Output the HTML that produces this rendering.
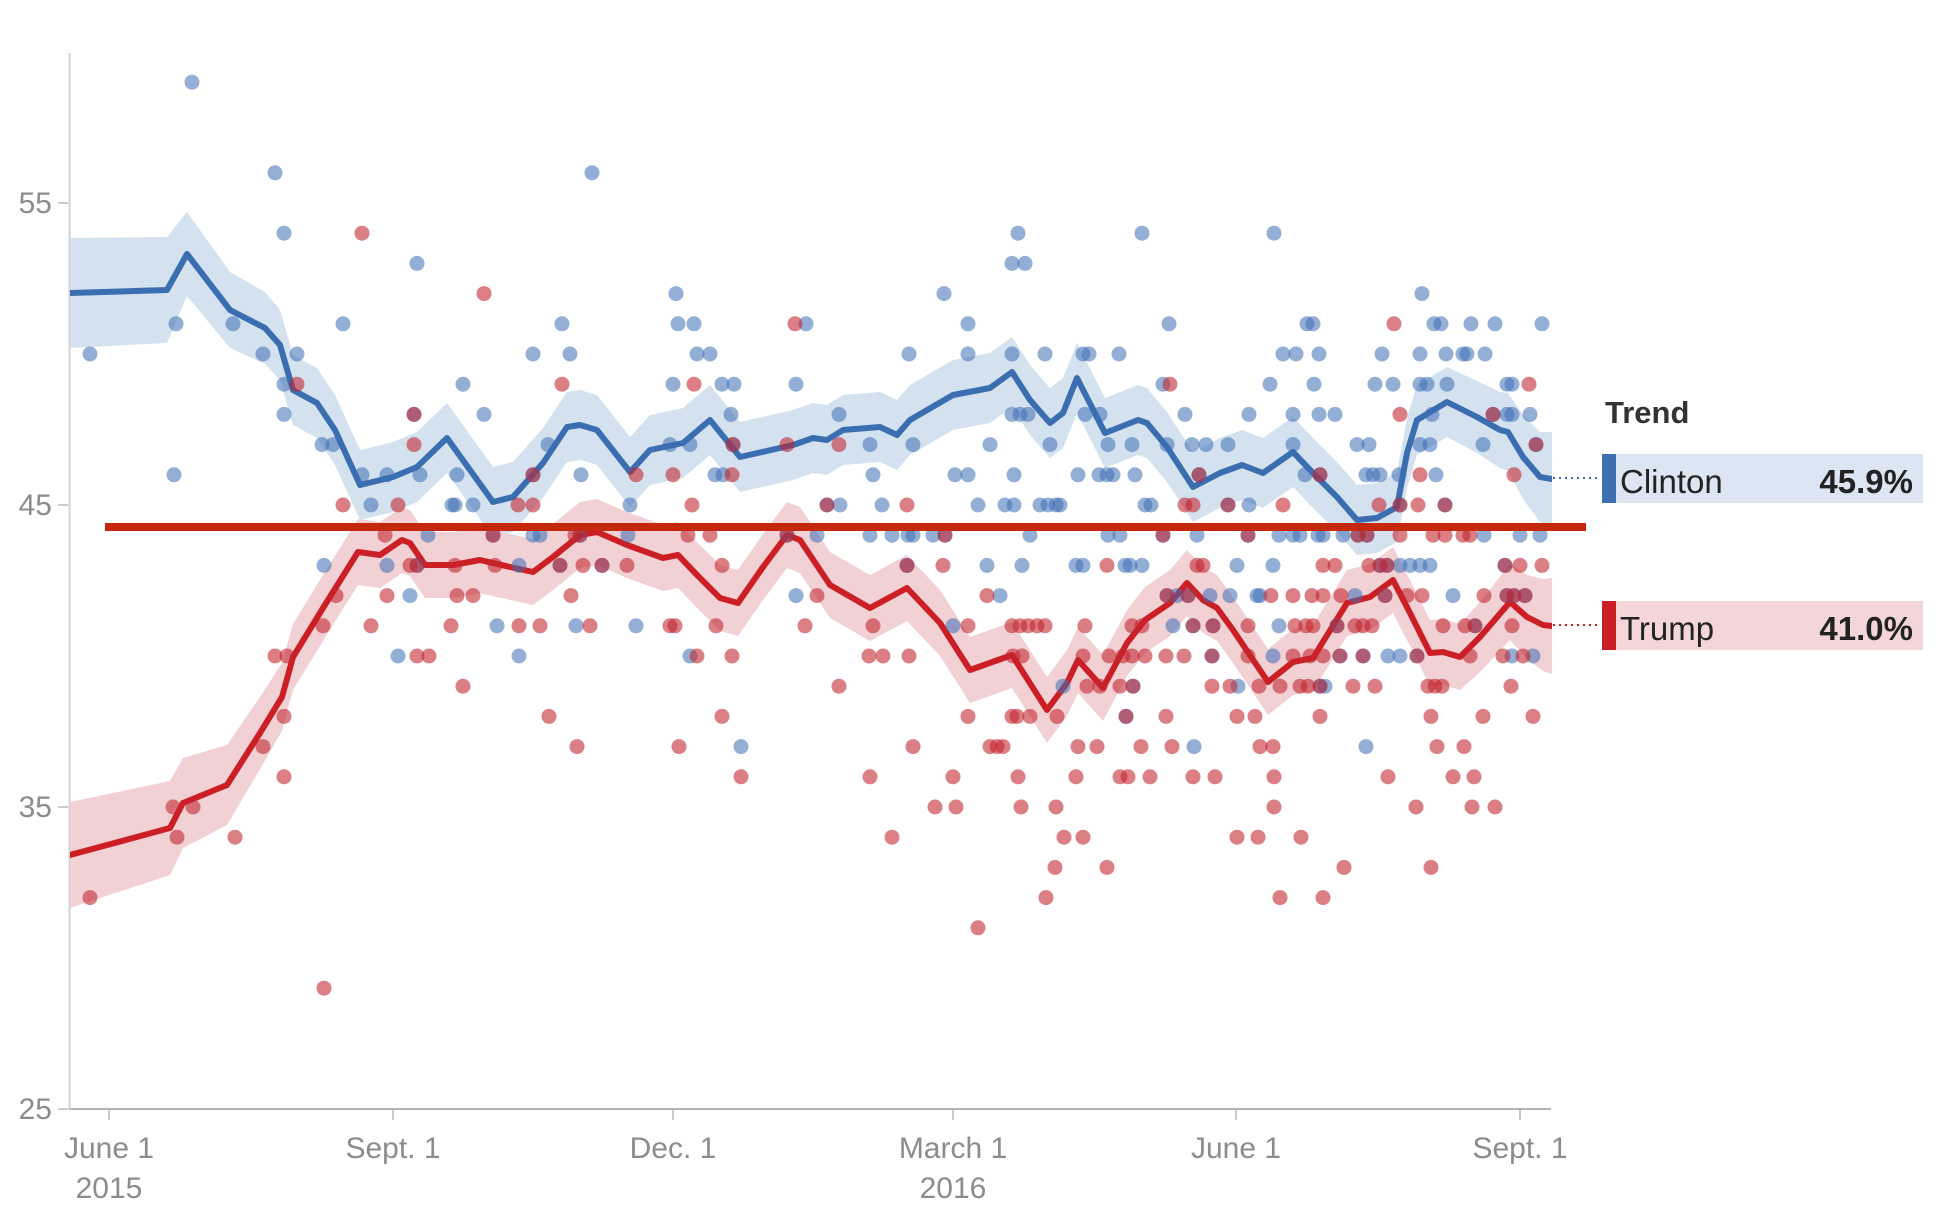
<!DOCTYPE html>
<html><head><meta charset="utf-8"><style>
html,body{margin:0;padding:0;background:#fff;}
svg{display:block;}
text{font-family:"Liberation Sans",Arial,sans-serif;}
</style></head><body>
<svg width="1954" height="1225" viewBox="0 0 1954 1225" xmlns="http://www.w3.org/2000/svg">
<rect width="1954" height="1225" fill="#fff"/>
<!-- axes -->
<line x1="69.5" y1="53" x2="69.5" y2="1109" stroke="#d2d2d2" stroke-width="2"/>
<line x1="69" y1="1109" x2="1551" y2="1109" stroke="#b4b4b4" stroke-width="2"/>
<g stroke="#b8b8b8" stroke-width="1.5">
<line x1="58" y1="203" x2="68" y2="203"/><line x1="58" y1="505" x2="68" y2="505"/><line x1="58" y1="807" x2="68" y2="807"/><line x1="58" y1="1109" x2="68" y2="1109"/>
<line x1="109" y1="1110" x2="109" y2="1120"/><line x1="393" y1="1110" x2="393" y2="1120"/><line x1="673" y1="1110" x2="673" y2="1120"/><line x1="953" y1="1110" x2="953" y2="1120"/><line x1="1236" y1="1110" x2="1236" y2="1120"/><line x1="1520" y1="1110" x2="1520" y2="1120"/>
</g>
<g fill="#8c8c8c" font-size="30" text-anchor="end">
<text x="52" y="213">55</text><text x="52" y="515">45</text><text x="52" y="817">35</text><text x="52" y="1119">25</text>
</g>
<g fill="#8c8c8c" font-size="30" text-anchor="middle">
<text x="109" y="1158">June 1</text><text x="109" y="1198">2015</text>
<text x="393" y="1158">Sept. 1</text>
<text x="673" y="1158">Dec. 1</text>
<text x="953" y="1158">March 1</text><text x="953" y="1198">2016</text>
<text x="1236" y="1158">June 1</text>
<text x="1520" y="1158">Sept. 1</text>
</g>
<defs><clipPath id="pc"><rect x="70" y="0" width="1482" height="1109"/></clipPath></defs>
<g clip-path="url(#pc)">
<!-- blue band -->
<polygon fill="#d4e2f0" points="70,238 167,237 187,212 230,272 265,292 280,310 293,355 317,368 335,395 360,450 393,442 417,432 447,403 470,435 493,467 513,462 543,428 567,392 580,390 597,395 630,437 650,415 683,408 710,385 740,422 793,410 813,403 827,405 843,395 880,392 897,400 910,385 953,360 990,353 1012,337 1030,365 1050,388 1063,378 1077,343 1105,398 1138,385 1147,388 1167,412 1193,452 1220,438 1242,430 1263,438 1293,417 1313,438 1337,462 1357,485 1377,483 1397,472 1407,418 1417,385 1447,367 1477,381 1500,392 1508,393 1523,415 1540,432 1552,432 1552,526 1540,522 1523,499 1508,471 1500,468 1477,453 1447,437 1417,455 1407,488 1397,542 1377,553 1357,555 1337,532 1313,508 1293,487 1263,508 1242,500 1220,508 1193,522 1167,482 1147,458 1138,455 1105,468 1077,413 1063,448 1050,458 1030,435 1012,407 990,423 953,430 910,455 897,470 880,462 843,465 827,475 813,473 793,480 740,492 710,455 683,478 650,485 630,507 597,465 580,460 567,462 543,498 513,532 493,537 470,505 447,473 417,502 393,512 360,520 335,465 317,438 293,425 280,380 265,364 230,348 187,296 167,343 70,348"/>
<!-- red band -->
<polygon fill="#f1d1d4" points="70,802 170,781 183,758 227,745 260,697 282,663 293,624 323,575 358,519 380,522 402,507 410,510 425,532 453,532 480,527 510,534 533,539 553,524 580,502 597,499 627,512 663,525 678,522 697,542 720,565 738,570 763,534 787,502 800,507 830,552 870,575 907,555 940,590 970,637 1012,622 1047,677 1067,650 1078,627 1103,655 1127,610 1145,587 1170,570 1187,550 1203,567 1217,575 1233,597 1268,649 1293,629 1313,625 1347,570 1370,564 1393,547 1410,580 1430,620 1443,619 1460,624 1480,602 1510,564 1527,575 1543,579 1552,578 1552,674 1543,671 1527,659 1510,640 1480,672 1460,690 1443,685 1430,686 1410,646 1393,613 1370,630 1347,636 1313,691 1293,695 1268,715 1233,663 1217,641 1203,633 1187,616 1170,636 1145,653 1127,676 1103,721 1078,693 1067,716 1047,743 1012,688 970,703 940,656 907,621 870,641 830,618 800,573 787,568 763,600 738,636 720,631 697,608 678,588 663,591 627,578 597,565 580,568 553,590 533,605 510,600 480,593 453,598 425,598 410,576 402,573 380,588 358,585 323,641 293,690 282,731 260,769 227,825 183,848 170,875 70,908"/>
<!-- trend lines -->
<polyline fill="none" stroke="#3b6eb0" stroke-width="6" stroke-linejoin="round" stroke-linecap="round" points="70,293 167,290 187,254 230,310 265,328 280,345 293,390 317,403 335,430 360,485 393,477 417,467 447,438 470,470 493,502 513,497 543,463 567,427 580,425 597,430 630,472 650,450 683,443 710,420 740,457 793,445 813,438 827,440 843,430 880,427 897,435 910,420 953,395 990,388 1012,372 1030,400 1050,423 1063,413 1077,378 1105,433 1138,420 1147,423 1167,447 1193,487 1220,473 1242,465 1263,473 1293,452 1313,473 1337,497 1357,520 1377,518 1397,507 1407,453 1417,420 1447,402 1477,417 1500,430 1508,432 1523,457 1540,477 1552,479"/>
<polyline fill="none" stroke="#cc1f25" stroke-width="6" stroke-linejoin="round" stroke-linecap="round" points="70,855 170,828 183,803 227,785 260,733 282,697 293,657 323,608 358,552 380,555 402,540 410,543 425,565 453,565 480,560 510,567 533,572 553,557 580,535 597,532 627,545 663,558 678,555 697,575 720,598 738,603 763,567 787,535 800,540 830,585 870,608 907,588 940,623 970,670 1012,655 1047,710 1067,683 1078,660 1103,688 1127,643 1145,620 1170,603 1187,583 1203,600 1217,608 1233,630 1268,682 1293,662 1313,658 1347,603 1370,597 1393,580 1410,613 1430,653 1443,652 1460,657 1480,637 1510,602 1527,617 1543,625 1552,626"/>
</g>
<!-- blue dots -->
<g fill="#3c6eb4" fill-opacity="0.55">
<g transform="translate(0,82.2)"><circle cx="192" r="7.5"/></g>
<g transform="translate(0,172.8)"><circle cx="275" r="7.5"/><circle cx="592" r="7.5"/></g>
<g transform="translate(0,233.2)"><circle cx="284" r="7.5"/><circle cx="1018" r="7.5"/><circle cx="1142" r="7.5"/><circle cx="1274" r="7.5"/></g>
<g transform="translate(0,263.4)"><circle cx="417" r="7.5"/><circle cx="1012" r="7.5"/><circle cx="1025" r="7.5"/></g>
<g transform="translate(0,293.6)"><circle cx="676" r="7.5"/><circle cx="944" r="7.5"/><circle cx="1422" r="7.5"/></g>
<g transform="translate(0,323.8)"><circle cx="176" r="7.5"/><circle cx="233" r="7.5"/><circle cx="343" r="7.5"/><circle cx="562" r="7.5"/><circle cx="678" r="7.5"/><circle cx="694" r="7.5"/><circle cx="806" r="7.5"/><circle cx="968" r="7.5"/><circle cx="1169" r="7.5"/><circle cx="1307" r="7.5"/><circle cx="1313" r="7.5"/><circle cx="1434" r="7.5"/><circle cx="1441" r="7.5"/><circle cx="1471" r="7.5"/><circle cx="1495" r="7.5"/><circle cx="1542" r="7.5"/></g>
<g transform="translate(0,354)"><circle cx="90" r="7.5"/><circle cx="263" r="7.5"/><circle cx="297" r="7.5"/><circle cx="533" r="7.5"/><circle cx="570" r="7.5"/><circle cx="697" r="7.5"/><circle cx="710" r="7.5"/><circle cx="909" r="7.5"/><circle cx="968" r="7.5"/><circle cx="1012" r="7.5"/><circle cx="1045" r="7.5"/><circle cx="1083" r="7.5"/><circle cx="1089" r="7.5"/><circle cx="1119" r="7.5"/><circle cx="1283" r="7.5"/><circle cx="1296" r="7.5"/><circle cx="1319" r="7.5"/><circle cx="1382" r="7.5"/><circle cx="1420" r="7.5"/><circle cx="1446" r="7.5"/><circle cx="1463" r="7.5"/><circle cx="1467" r="7.5"/><circle cx="1485" r="7.5"/></g>
<g transform="translate(0,384.2)"><circle cx="284" r="7.5"/><circle cx="463" r="7.5"/><circle cx="673" r="7.5"/><circle cx="722" r="7.5"/><circle cx="734" r="7.5"/><circle cx="796" r="7.5"/><circle cx="1163" r="7.5"/><circle cx="1270" r="7.5"/><circle cx="1314" r="7.5"/><circle cx="1375" r="7.5"/><circle cx="1393" r="7.5"/><circle cx="1420" r="7.5"/><circle cx="1427" r="7.5"/><circle cx="1447" r="7.5"/><circle cx="1507" r="7.5"/><circle cx="1512" r="7.5"/></g>
<g transform="translate(0,414.4)"><circle cx="284" r="7.5"/><circle cx="414" r="7.5"/><circle cx="484" r="7.5"/><circle cx="731" r="7.5"/><circle cx="839" r="7.5"/><circle cx="1012" r="7.5"/><circle cx="1020" r="7.5"/><circle cx="1028" r="7.5"/><circle cx="1085" r="7.5"/><circle cx="1100" r="7.5"/><circle cx="1185" r="7.5"/><circle cx="1249" r="7.5"/><circle cx="1293" r="7.5"/><circle cx="1319" r="7.5"/><circle cx="1335" r="7.5"/><circle cx="1432" r="7.5"/><circle cx="1493" r="7.5"/><circle cx="1507" r="7.5"/><circle cx="1512" r="7.5"/><circle cx="1530" r="7.5"/></g>
<g transform="translate(0,444.6)"><circle cx="322" r="7.5"/><circle cx="333" r="7.5"/><circle cx="548" r="7.5"/><circle cx="670" r="7.5"/><circle cx="690" r="7.5"/><circle cx="733" r="7.5"/><circle cx="870" r="7.5"/><circle cx="913" r="7.5"/><circle cx="990" r="7.5"/><circle cx="1050" r="7.5"/><circle cx="1108" r="7.5"/><circle cx="1132" r="7.5"/><circle cx="1167" r="7.5"/><circle cx="1192" r="7.5"/><circle cx="1206" r="7.5"/><circle cx="1228" r="7.5"/><circle cx="1293" r="7.5"/><circle cx="1357" r="7.5"/><circle cx="1369" r="7.5"/><circle cx="1420" r="7.5"/><circle cx="1430" r="7.5"/><circle cx="1483" r="7.5"/><circle cx="1536" r="7.5"/></g>
<g transform="translate(0,474.8)"><circle cx="174" r="7.5"/><circle cx="362" r="7.5"/><circle cx="387" r="7.5"/><circle cx="420" r="7.5"/><circle cx="457" r="7.5"/><circle cx="533" r="7.5"/><circle cx="581" r="7.5"/><circle cx="715" r="7.5"/><circle cx="723" r="7.5"/><circle cx="873" r="7.5"/><circle cx="955" r="7.5"/><circle cx="968" r="7.5"/><circle cx="1014" r="7.5"/><circle cx="1078" r="7.5"/><circle cx="1099" r="7.5"/><circle cx="1107" r="7.5"/><circle cx="1113" r="7.5"/><circle cx="1135" r="7.5"/><circle cx="1199" r="7.5"/><circle cx="1305" r="7.5"/><circle cx="1320" r="7.5"/><circle cx="1366" r="7.5"/><circle cx="1373" r="7.5"/><circle cx="1380" r="7.5"/><circle cx="1399" r="7.5"/><circle cx="1436" r="7.5"/></g>
<g transform="translate(0,505)"><circle cx="371" r="7.5"/><circle cx="452" r="7.5"/><circle cx="455" r="7.5"/><circle cx="473" r="7.5"/><circle cx="630" r="7.5"/><circle cx="827" r="7.5"/><circle cx="840" r="7.5"/><circle cx="882" r="7.5"/><circle cx="978" r="7.5"/><circle cx="1005" r="7.5"/><circle cx="1014" r="7.5"/><circle cx="1040" r="7.5"/><circle cx="1048" r="7.5"/><circle cx="1056" r="7.5"/><circle cx="1060" r="7.5"/><circle cx="1145" r="7.5"/><circle cx="1151" r="7.5"/><circle cx="1228" r="7.5"/><circle cx="1249" r="7.5"/><circle cx="1400" r="7.5"/><circle cx="1445" r="7.5"/></g>
<g transform="translate(0,535.2)"><circle cx="428" r="7.5"/><circle cx="493" r="7.5"/><circle cx="533" r="7.5"/><circle cx="540" r="7.5"/><circle cx="580" r="7.5"/><circle cx="628" r="7.5"/><circle cx="787" r="7.5"/><circle cx="817" r="7.5"/><circle cx="870" r="7.5"/><circle cx="892" r="7.5"/><circle cx="908" r="7.5"/><circle cx="913" r="7.5"/><circle cx="933" r="7.5"/><circle cx="945" r="7.5"/><circle cx="1030" r="7.5"/><circle cx="1108" r="7.5"/><circle cx="1120" r="7.5"/><circle cx="1163" r="7.5"/><circle cx="1197" r="7.5"/><circle cx="1248" r="7.5"/><circle cx="1279" r="7.5"/><circle cx="1293" r="7.5"/><circle cx="1300" r="7.5"/><circle cx="1318" r="7.5"/><circle cx="1323" r="7.5"/><circle cx="1343" r="7.5"/><circle cx="1358" r="7.5"/><circle cx="1367" r="7.5"/><circle cx="1484" r="7.5"/><circle cx="1520" r="7.5"/><circle cx="1540" r="7.5"/></g>
<g transform="translate(0,565.4)"><circle cx="324" r="7.5"/><circle cx="387" r="7.5"/><circle cx="417" r="7.5"/><circle cx="519" r="7.5"/><circle cx="560" r="7.5"/><circle cx="602" r="7.5"/><circle cx="907" r="7.5"/><circle cx="987" r="7.5"/><circle cx="1022" r="7.5"/><circle cx="1076" r="7.5"/><circle cx="1083" r="7.5"/><circle cx="1125" r="7.5"/><circle cx="1130" r="7.5"/><circle cx="1142" r="7.5"/><circle cx="1237" r="7.5"/><circle cx="1273" r="7.5"/><circle cx="1380" r="7.5"/><circle cx="1387" r="7.5"/><circle cx="1400" r="7.5"/><circle cx="1410" r="7.5"/><circle cx="1420" r="7.5"/><circle cx="1430" r="7.5"/><circle cx="1505" r="7.5"/></g>
<g transform="translate(0,595.6)"><circle cx="410" r="7.5"/><circle cx="796" r="7.5"/><circle cx="1000" r="7.5"/><circle cx="1167" r="7.5"/><circle cx="1177" r="7.5"/><circle cx="1188" r="7.5"/><circle cx="1210" r="7.5"/><circle cx="1230" r="7.5"/><circle cx="1257" r="7.5"/><circle cx="1260" r="7.5"/><circle cx="1355" r="7.5"/><circle cx="1385" r="7.5"/><circle cx="1453" r="7.5"/><circle cx="1507" r="7.5"/><circle cx="1514" r="7.5"/><circle cx="1525" r="7.5"/></g>
<g transform="translate(0,625.8)"><circle cx="497" r="7.5"/><circle cx="576" r="7.5"/><circle cx="636" r="7.5"/><circle cx="953" r="7.5"/><circle cx="1173" r="7.5"/><circle cx="1193" r="7.5"/><circle cx="1213" r="7.5"/><circle cx="1279" r="7.5"/><circle cx="1337" r="7.5"/><circle cx="1475" r="7.5"/></g>
<g transform="translate(0,656)"><circle cx="398" r="7.5"/><circle cx="519" r="7.5"/><circle cx="690" r="7.5"/><circle cx="1212" r="7.5"/><circle cx="1273" r="7.5"/><circle cx="1340" r="7.5"/><circle cx="1363" r="7.5"/><circle cx="1388" r="7.5"/><circle cx="1400" r="7.5"/><circle cx="1417" r="7.5"/><circle cx="1512" r="7.5"/><circle cx="1533" r="7.5"/></g>
<g transform="translate(0,686.2)"><circle cx="1063" r="7.5"/><circle cx="1133" r="7.5"/><circle cx="1238" r="7.5"/><circle cx="1320" r="7.5"/><circle cx="1325" r="7.5"/></g>
<g transform="translate(0,716.4)"><circle cx="1126" r="7.5"/></g>
<g transform="translate(0,746.6)"><circle cx="741" r="7.5"/><circle cx="1194" r="7.5"/><circle cx="1366" r="7.5"/></g>
</g>
<!-- red dots -->
<g fill="#c3232d" fill-opacity="0.58">
<g transform="translate(0,233.2)"><circle cx="362" r="7.5"/></g>
<g transform="translate(0,293.6)"><circle cx="484" r="7.5"/></g>
<g transform="translate(0,323.8)"><circle cx="795" r="7.5"/><circle cx="1394" r="7.5"/></g>
<g transform="translate(0,384.2)"><circle cx="297" r="7.5"/><circle cx="562" r="7.5"/><circle cx="694" r="7.5"/><circle cx="1170" r="7.5"/><circle cx="1529" r="7.5"/></g>
<g transform="translate(0,414.4)"><circle cx="414" r="7.5"/><circle cx="1400" r="7.5"/><circle cx="1493" r="7.5"/></g>
<g transform="translate(0,444.6)"><circle cx="414" r="7.5"/><circle cx="733" r="7.5"/><circle cx="787" r="7.5"/><circle cx="839" r="7.5"/><circle cx="1536" r="7.5"/></g>
<g transform="translate(0,474.8)"><circle cx="533" r="7.5"/><circle cx="636" r="7.5"/><circle cx="673" r="7.5"/><circle cx="732" r="7.5"/><circle cx="1199" r="7.5"/><circle cx="1320" r="7.5"/><circle cx="1420" r="7.5"/><circle cx="1514" r="7.5"/></g>
<g transform="translate(0,505)"><circle cx="343" r="7.5"/><circle cx="398" r="7.5"/><circle cx="518" r="7.5"/><circle cx="533" r="7.5"/><circle cx="692" r="7.5"/><circle cx="827" r="7.5"/><circle cx="907" r="7.5"/><circle cx="1185" r="7.5"/><circle cx="1193" r="7.5"/><circle cx="1228" r="7.5"/><circle cx="1283" r="7.5"/><circle cx="1379" r="7.5"/><circle cx="1400" r="7.5"/><circle cx="1418" r="7.5"/><circle cx="1445" r="7.5"/></g>
<g transform="translate(0,535.2)"><circle cx="385" r="7.5"/><circle cx="493" r="7.5"/><circle cx="575" r="7.5"/><circle cx="580" r="7.5"/><circle cx="688" r="7.5"/><circle cx="710" r="7.5"/><circle cx="787" r="7.5"/><circle cx="945" r="7.5"/><circle cx="1163" r="7.5"/><circle cx="1248" r="7.5"/><circle cx="1358" r="7.5"/><circle cx="1367" r="7.5"/><circle cx="1400" r="7.5"/><circle cx="1433" r="7.5"/><circle cx="1445" r="7.5"/><circle cx="1463" r="7.5"/><circle cx="1470" r="7.5"/></g>
<g transform="translate(0,565.4)"><circle cx="410" r="7.5"/><circle cx="417" r="7.5"/><circle cx="455" r="7.5"/><circle cx="495" r="7.5"/><circle cx="560" r="7.5"/><circle cx="583" r="7.5"/><circle cx="602" r="7.5"/><circle cx="627" r="7.5"/><circle cx="722" r="7.5"/><circle cx="907" r="7.5"/><circle cx="943" r="7.5"/><circle cx="1107" r="7.5"/><circle cx="1197" r="7.5"/><circle cx="1203" r="7.5"/><circle cx="1323" r="7.5"/><circle cx="1335" r="7.5"/><circle cx="1369" r="7.5"/><circle cx="1380" r="7.5"/><circle cx="1387" r="7.5"/><circle cx="1505" r="7.5"/><circle cx="1520" r="7.5"/><circle cx="1542" r="7.5"/></g>
<g transform="translate(0,595.6)"><circle cx="336" r="7.5"/><circle cx="387" r="7.5"/><circle cx="457" r="7.5"/><circle cx="473" r="7.5"/><circle cx="571" r="7.5"/><circle cx="817" r="7.5"/><circle cx="987" r="7.5"/><circle cx="1167" r="7.5"/><circle cx="1188" r="7.5"/><circle cx="1271" r="7.5"/><circle cx="1293" r="7.5"/><circle cx="1312" r="7.5"/><circle cx="1323" r="7.5"/><circle cx="1341" r="7.5"/><circle cx="1385" r="7.5"/><circle cx="1407" r="7.5"/><circle cx="1422" r="7.5"/><circle cx="1484" r="7.5"/><circle cx="1507" r="7.5"/><circle cx="1514" r="7.5"/><circle cx="1525" r="7.5"/></g>
<g transform="translate(0,625.8)"><circle cx="323" r="7.5"/><circle cx="371" r="7.5"/><circle cx="451" r="7.5"/><circle cx="519" r="7.5"/><circle cx="540" r="7.5"/><circle cx="590" r="7.5"/><circle cx="670" r="7.5"/><circle cx="675" r="7.5"/><circle cx="716" r="7.5"/><circle cx="805" r="7.5"/><circle cx="873" r="7.5"/><circle cx="968" r="7.5"/><circle cx="1012" r="7.5"/><circle cx="1020" r="7.5"/><circle cx="1028" r="7.5"/><circle cx="1037" r="7.5"/><circle cx="1045" r="7.5"/><circle cx="1085" r="7.5"/><circle cx="1132" r="7.5"/><circle cx="1142" r="7.5"/><circle cx="1193" r="7.5"/><circle cx="1213" r="7.5"/><circle cx="1248" r="7.5"/><circle cx="1295" r="7.5"/><circle cx="1306" r="7.5"/><circle cx="1313" r="7.5"/><circle cx="1337" r="7.5"/><circle cx="1355" r="7.5"/><circle cx="1363" r="7.5"/><circle cx="1372" r="7.5"/><circle cx="1443" r="7.5"/><circle cx="1465" r="7.5"/><circle cx="1475" r="7.5"/><circle cx="1512" r="7.5"/></g>
<g transform="translate(0,656)"><circle cx="275" r="7.5"/><circle cx="287" r="7.5"/><circle cx="417" r="7.5"/><circle cx="429" r="7.5"/><circle cx="697" r="7.5"/><circle cx="732" r="7.5"/><circle cx="869" r="7.5"/><circle cx="883" r="7.5"/><circle cx="909" r="7.5"/><circle cx="1013" r="7.5"/><circle cx="1022" r="7.5"/><circle cx="1083" r="7.5"/><circle cx="1109" r="7.5"/><circle cx="1123" r="7.5"/><circle cx="1132" r="7.5"/><circle cx="1145" r="7.5"/><circle cx="1166" r="7.5"/><circle cx="1184" r="7.5"/><circle cx="1212" r="7.5"/><circle cx="1248" r="7.5"/><circle cx="1293" r="7.5"/><circle cx="1310" r="7.5"/><circle cx="1323" r="7.5"/><circle cx="1340" r="7.5"/><circle cx="1363" r="7.5"/><circle cx="1417" r="7.5"/><circle cx="1470" r="7.5"/><circle cx="1503" r="7.5"/><circle cx="1523" r="7.5"/></g>
<g transform="translate(0,686.2)"><circle cx="463" r="7.5"/><circle cx="839" r="7.5"/><circle cx="1087" r="7.5"/><circle cx="1100" r="7.5"/><circle cx="1120" r="7.5"/><circle cx="1133" r="7.5"/><circle cx="1212" r="7.5"/><circle cx="1230" r="7.5"/><circle cx="1259" r="7.5"/><circle cx="1280" r="7.5"/><circle cx="1300" r="7.5"/><circle cx="1308" r="7.5"/><circle cx="1320" r="7.5"/><circle cx="1353" r="7.5"/><circle cx="1375" r="7.5"/><circle cx="1428" r="7.5"/><circle cx="1435" r="7.5"/><circle cx="1442" r="7.5"/><circle cx="1511" r="7.5"/></g>
<g transform="translate(0,716.4)"><circle cx="284" r="7.5"/><circle cx="549" r="7.5"/><circle cx="722" r="7.5"/><circle cx="968" r="7.5"/><circle cx="1012" r="7.5"/><circle cx="1017" r="7.5"/><circle cx="1030" r="7.5"/><circle cx="1057" r="7.5"/><circle cx="1126" r="7.5"/><circle cx="1166" r="7.5"/><circle cx="1237" r="7.5"/><circle cx="1255" r="7.5"/><circle cx="1320" r="7.5"/><circle cx="1431" r="7.5"/><circle cx="1483" r="7.5"/><circle cx="1533" r="7.5"/></g>
<g transform="translate(0,746.6)"><circle cx="263" r="7.5"/><circle cx="577" r="7.5"/><circle cx="679" r="7.5"/><circle cx="913" r="7.5"/><circle cx="990" r="7.5"/><circle cx="997" r="7.5"/><circle cx="1003" r="7.5"/><circle cx="1078" r="7.5"/><circle cx="1097" r="7.5"/><circle cx="1141" r="7.5"/><circle cx="1172" r="7.5"/><circle cx="1260" r="7.5"/><circle cx="1273" r="7.5"/><circle cx="1437" r="7.5"/><circle cx="1464" r="7.5"/></g>
<g transform="translate(0,776.8)"><circle cx="284" r="7.5"/><circle cx="741" r="7.5"/><circle cx="870" r="7.5"/><circle cx="953" r="7.5"/><circle cx="1018" r="7.5"/><circle cx="1076" r="7.5"/><circle cx="1120" r="7.5"/><circle cx="1128" r="7.5"/><circle cx="1150" r="7.5"/><circle cx="1193" r="7.5"/><circle cx="1215" r="7.5"/><circle cx="1274" r="7.5"/><circle cx="1388" r="7.5"/><circle cx="1453" r="7.5"/><circle cx="1474" r="7.5"/></g>
<g transform="translate(0,807)"><circle cx="173" r="7.5"/><circle cx="193" r="7.5"/><circle cx="935" r="7.5"/><circle cx="956" r="7.5"/><circle cx="1021" r="7.5"/><circle cx="1056" r="7.5"/><circle cx="1274" r="7.5"/><circle cx="1416" r="7.5"/><circle cx="1472" r="7.5"/><circle cx="1495" r="7.5"/></g>
<g transform="translate(0,837.2)"><circle cx="177" r="7.5"/><circle cx="235" r="7.5"/><circle cx="892" r="7.5"/><circle cx="1064" r="7.5"/><circle cx="1083" r="7.5"/><circle cx="1237" r="7.5"/><circle cx="1258" r="7.5"/><circle cx="1301" r="7.5"/></g>
<g transform="translate(0,867.4)"><circle cx="1055" r="7.5"/><circle cx="1107" r="7.5"/><circle cx="1344" r="7.5"/><circle cx="1431" r="7.5"/></g>
<g transform="translate(0,897.6)"><circle cx="90" r="7.5"/><circle cx="1046" r="7.5"/><circle cx="1280" r="7.5"/><circle cx="1323" r="7.5"/></g>
<g transform="translate(0,927.8)"><circle cx="978" r="7.5"/></g>
<g transform="translate(0,988.2)"><circle cx="324" r="7.5"/></g>
</g>
<!-- reference line -->
<rect x="105" y="523" width="1481" height="8" fill="#c4290d"/>
<!-- connectors -->
<line x1="1553" y1="478" x2="1601" y2="478" stroke="#3b6eb0" stroke-width="2" stroke-dasharray="2 4"/>
<line x1="1553" y1="625" x2="1601" y2="625" stroke="#cc1f25" stroke-width="2" stroke-dasharray="2 4"/>
<!-- legend -->
<text x="1605" y="423" font-size="31" font-weight="bold" fill="#333">Trend</text>
<rect x="1602" y="454" width="321" height="49" fill="#dce6f2"/>
<rect x="1602" y="454" width="14" height="49" fill="#3d6fb0"/>
<text x="1620" y="493" font-size="33" fill="#222">Clinton</text>
<text x="1913" y="493" font-size="33" font-weight="bold" fill="#222" text-anchor="end">45.9%</text>
<rect x="1602" y="601" width="321" height="49" fill="#f4d6d8"/>
<rect x="1602" y="601" width="14" height="49" fill="#cc1f25"/>
<text x="1620" y="640" font-size="33" fill="#222">Trump</text>
<text x="1913" y="640" font-size="33" font-weight="bold" fill="#222" text-anchor="end">41.0%</text>
</svg>
</body></html>
